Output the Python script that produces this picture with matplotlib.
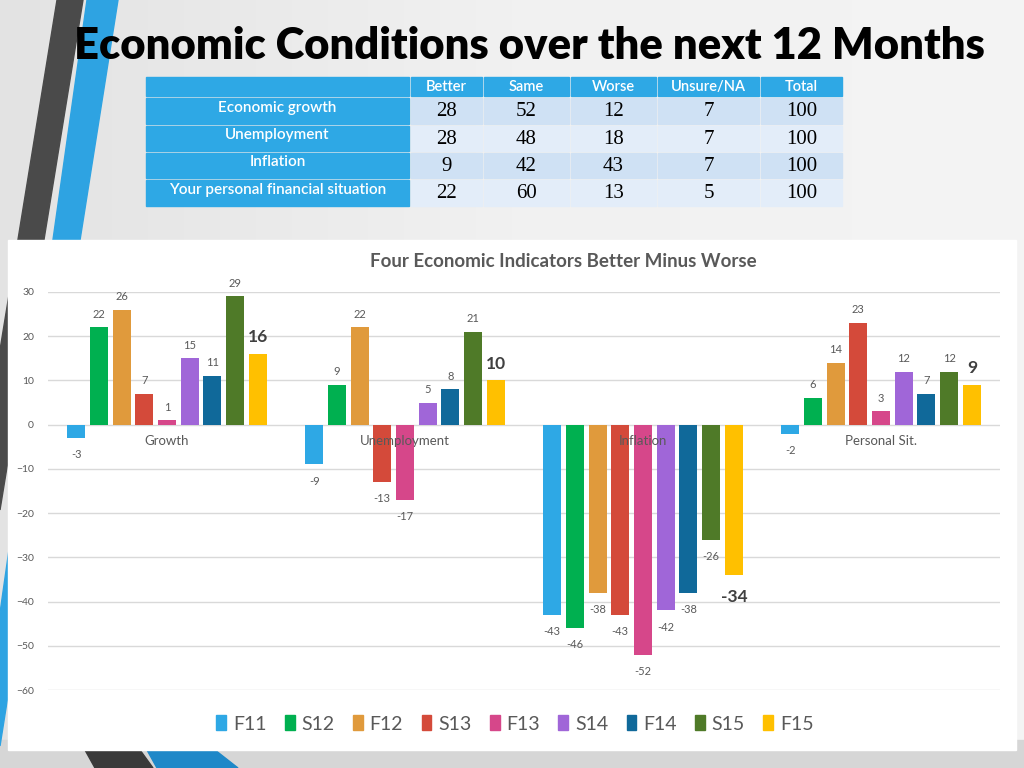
#!/usr/bin/env python3
# Slide: Economic Conditions over the next 12 Months (table + better-minus-worse bar chart)

import numpy as np
import matplotlib
matplotlib.use("Agg")
import matplotlib.pyplot as plt
from matplotlib.patches import Rectangle, Polygon, Patch

# ---- data ----
table_cols = ["Better", "Same", "Worse", "Unsure/NA", "Total"]
table_rows = ["Economic growth", "Unemployment", "Inflation", "Your personal financial situation"]
better = [28, 28, 9, 22]
same = [52, 48, 42, 60]
worse = [12, 18, 43, 13]
unsure = [7, 7, 7, 5]
total = [100, 100, 100, 100]

categories = ["Growth", "Unemployment", "Inflation", "Personal Sit."]
series = ["F11", "S12", "F12", "S13", "F13", "S14", "F14", "S15", "F15"]
F11 = [-3, -9, -43, -2]
S12 = [22, 9, -46, 6]
F12 = [26, 22, -38, 14]
S13 = [7, -13, -43, 23]
F13 = [1, -17, -52, 3]
S14 = [15, 5, -42, 12]
F14 = [11, 8, -38, 7]
S15 = [29, 21, -26, 12]
F15 = [16, 10, -34, 9]
values = [F11, S12, F12, S13, F13, S14, F14, S15, F15]
colors = ["#2ea8e5", "#00b050", "#e09a3c", "#d44a3a", "#d6478a",
          "#a066d8", "#10699a", "#4f7a28", "#ffc000"]

W, H = 1024, 768
fig = plt.figure(figsize=(W / 100, H / 100), dpi=100)

# ---- slide background (pixel coords) ----
bg = fig.add_axes([0, 0, 1, 1])
bg.set_xlim(0, W)
bg.set_ylim(H, 0)
bg.axis("off")
grad = np.linspace(0, 1, 256)[None, :]
bg.imshow(grad, extent=[0, W, H, 0], aspect="auto", cmap=matplotlib.colors.LinearSegmentedColormap.from_list(
    "g", ["#e3e3e3", "#f1f1f1", "#f4f4f4"]), zorder=0)
bg.add_patch(Rectangle((0, 740), W, 28, color="#d6d6d6", zorder=0.5))

# decorative stripes
bg.add_patch(Polygon([(57, 0), (83, 0), (0, 510), (0, 350)], closed=True, color="#4a4a4a", zorder=1))
bg.add_patch(Polygon([(87, 0), (118, 0), (0, 746), (0, 613)], closed=True, color="#2ea3e2", zorder=1))
bg.add_patch(Polygon([(85, 750), (140, 750), (153, 768), (95, 768)], closed=True, color="#3a3a3a", zorder=1))
bg.add_patch(Polygon([(147, 750), (215, 750), (238, 768), (157, 768)], closed=True, color="#1f88c8", zorder=1))

# title
bg.text(529, 46, "Economic Conditions over the next 12 Months", ha="center", va="center",
        fontsize=31.3, fontweight="heavy", family="Lato", color="black", zorder=3)

# ---- table ----
col_edges = [145, 410, 483, 570, 657, 760, 843]
row_edges = [77, 97, 125, 152, 179, 207]
blue = "#2ea8e5"
for c in range(6):
    x0, x1 = col_edges[c], col_edges[c + 1]
    bg.add_patch(Rectangle((x0 + 1, row_edges[0]), x1 - x0 - 2, row_edges[1] - row_edges[0] - 1,
                           color=blue, zorder=2))
    if c > 0:
        bg.text((x0 + x1) / 2, 87, table_cols[c - 1], ha="center", va="center",
                fontsize=10.5, family="Lato", color="white", fontweight="semibold", zorder=3)
table_data = [better, same, worse, unsure, total]
for r in range(4):
    y0, y1 = row_edges[r + 1], row_edges[r + 2]
    cell = "#cfe1f4" if r % 2 == 0 else "#e3edf9"
    for c in range(6):
        x0, x1 = col_edges[c], col_edges[c + 1]
        fc = blue if c == 0 else cell
        bg.add_patch(Rectangle((x0 + 1, y0 + 1), x1 - x0 - 2, y1 - y0 - 2, color=fc, zorder=2))
        if c == 0:
            bg.text((x0 + x1) / 2, (y0 + y1) / 2 - 3, table_rows[r], ha="center", va="center",
                    fontsize=11, family="Lato", color="white", fontweight="semibold", zorder=3)
        else:
            bg.text((x0 + x1) / 2, (y0 + y1) / 2 + 1, str(table_data[c - 1][r]), ha="center", va="center",
                    fontsize=15, family="Liberation Serif", color="black", zorder=3)

# chart panel
bg.add_patch(Rectangle((8, 240), 1008, 510, color="white", zorder=2))

# ---- bar chart ----
ax = fig.add_axes([48 / W, (H - 690) / H, 952 / W, 398 / H])
ax.patch.set_visible(False)
ax.set_xlim(-0.5, 3.5)
ax.set_ylim(-60, 30)
for s in ax.spines.values():
    s.set_visible(False)
ax.set_yticks(range(-60, 31, 10))
ax.yaxis.grid(True, color="#d9d9d9", linewidth=1)
ax.set_axisbelow(True)
ax.set_xticks([])
ax.tick_params(axis="y", length=0, pad=10, labelsize=7.5, labelcolor="#595959")
for lab in ax.get_yticklabels():
    lab.set_family("Lato")

pitch = 0.0954
bw = 0.0756
x = np.arange(len(categories))
for k, (name, vals, col) in enumerate(zip(series, values, colors)):
    xs = x + (k - 4) * pitch
    ax.bar(xs, vals, width=bw, color=col, label=name, zorder=2)
    bold = name == "F15"
    for xi, v in zip(xs, vals):
        if bold:
            off = 12 if v >= 0 else -16
            ax.annotate(str(v), (xi, v), xytext=(0, off), textcoords="offset points",
                        ha="center", va="center", fontsize=12.5, fontweight="bold",
                        family="Lato", color="#404040", annotation_clip=False)
        else:
            off = 9.5 if v >= 0 else -12
            ax.annotate(str(v), (xi, v), xytext=(0, off), textcoords="offset points",
                        ha="center", va="center", fontsize=8,
                        family="Lato", color="#595959", annotation_clip=False)

for i, cat in enumerate(categories):
    ax.text(i, -3.6, cat, ha="center", va="center", fontsize=9.5, family="Lato",
            color="#595959", zorder=3)

fig.text(563 / W, 1 - 262 / H, "Four Economic Indicators Better Minus Worse", ha="center", va="center",
         fontsize=13.5, fontweight="bold", family="Lato", color="#595959")

handles = [Patch(color=c) for c in colors]
fig.legend(handles, series, loc="center", bbox_to_anchor=(515 / W, 1 - 724 / H), ncol=9,
           frameon=False, handlelength=0.5, handleheight=0.8,
           handletextpad=0.35, columnspacing=0.95, labelcolor="#595959",
           prop={"family": "Lato", "size": 14})

fig.savefig("out.png", dpi=100)
print("saved out.png")
